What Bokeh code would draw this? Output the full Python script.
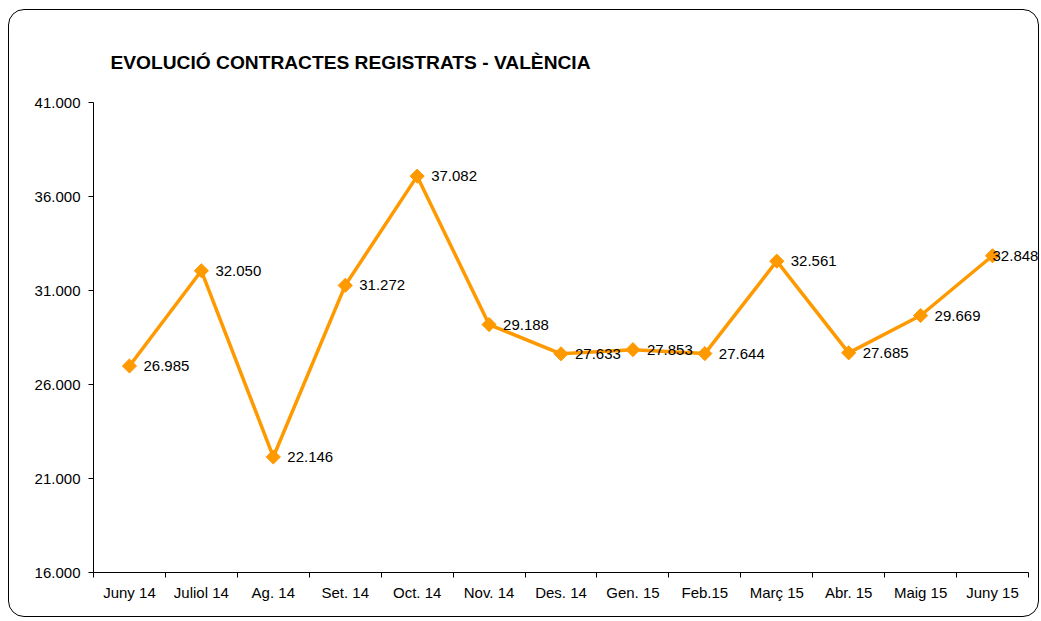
import numpy as np
from bokeh.plotting import figure
from bokeh.models import ColumnDataSource, FixedTicker, Range1d, LabelSet
from bokeh.core.properties import value
from bokeh.embed import file_html
from bokeh.resources import INLINE

months = ["Juny 14", "Juliol 14", "Ag. 14", "Set. 14", "Oct. 14", "Nov. 14", "Des. 14",
          "Gen. 15", "Feb.15", "Març 15", "Abr. 15", "Maig 15", "Juny 15"]
contracts = [26985, 32050, 22146, 31272, 37082, 29188, 27633, 27853, 27644, 32561, 27685, 29669, 32848]
y_ticks = [16000, 21000, 26000, 31000, 36000, 41000]
title_text = "EVOLUCIÓ CONTRACTES REGISTRATS - VALÈNCIA"


def fmt(v):
    return f"{v:,}".replace(",", ".")


n = len(months)
xs = [i + 0.5 for i in range(n)]
label_offsets = [14] * n
label_offsets[-1] = 0

src = ColumnDataSource(dict(x=xs, y=contracts, lab=[fmt(v) for v in contracts], off=label_offsets))

FONT = "Liberation Sans"
ORANGE = "#FF9900"

# frame extends a little past the last category so the last value label is not clipped;
# the x axis itself is bounded to the categories
p = figure(width=1031, height=608, output_backend="svg", toolbar_location=None,
           x_range=Range1d(0, n * 947 / 935), y_range=Range1d(16000, 41000),
           min_border_left=84, min_border_right=0, min_border_top=92, min_border_bottom=46)
p.styles = {"border": "1px solid #000000", "border-radius": "16px",
            "margin-top": "9px", "margin-left": "8px"}
p.outline_line_color = None
p.xgrid.grid_line_color = None
p.ygrid.grid_line_color = None
p.background_fill_color = "white"
p.border_fill_color = None

p.title.text = title_text
p.title.text_font = FONT
p.title.text_font_size = "19.2px"
p.title.text_font_style = "bold"
p.title.text_color = "black"
p.title.align = "left"
p.title.offset = 17
p.title.standoff = 59

# x axis
p.xaxis.bounds = (0, n)
p.xaxis.ticker = FixedTicker(ticks=xs, minor_ticks=list(range(n + 1)))
p.xaxis.major_label_overrides = {x: m for x, m in zip(xs, months)}
p.xaxis.major_tick_in = 0
p.xaxis.major_tick_out = 0
p.xaxis.minor_tick_in = 0
p.xaxis.minor_tick_out = 5
p.xaxis.minor_tick_line_color = "black"
p.xaxis.axis_line_color = "black"
p.xaxis.major_label_text_font = FONT
p.xaxis.major_label_text_font_size = "15px"
p.xaxis.major_label_text_color = "black"
p.xaxis.major_label_standoff = 6

# y axis
p.yaxis.ticker = FixedTicker(ticks=y_ticks, minor_ticks=[])
p.yaxis.major_label_overrides = {t: fmt(t) for t in y_ticks}
p.yaxis.major_tick_in = 0
p.yaxis.major_tick_out = 5
p.yaxis.major_tick_line_color = "black"
p.yaxis.axis_line_color = "black"
p.yaxis.major_label_text_font = FONT
p.yaxis.major_label_text_font_size = "15px"
p.yaxis.major_label_text_color = "black"
p.yaxis.major_label_standoff = 8

p.line("x", "y", source=src, line_color=ORANGE, line_width=3.5)
p.scatter("x", "y", source=src, marker="square", angle=np.pi / 4, size=10,
          fill_color=ORANGE, line_color=ORANGE)
labels = LabelSet(x="x", y="y", text="lab", source=src, x_offset="off", text_align="left",
                  text_baseline="middle", text_font=value(FONT), text_font_size="15px",
                  text_color="black")
p.add_layout(labels)

open("out.html", "w").write(file_html(p, INLINE))
